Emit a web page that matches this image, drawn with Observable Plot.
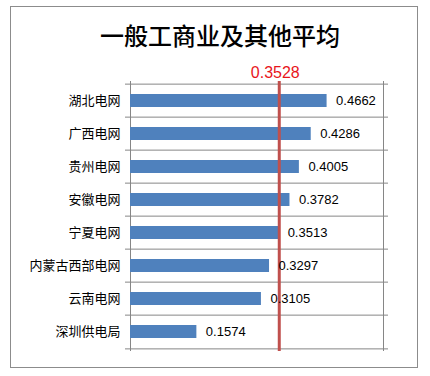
<!DOCTYPE html>
<html>
<head>
<meta charset="utf-8">
<script src="https://cdn.jsdelivr.net/npm/d3@7"></script>
<script src="https://cdn.jsdelivr.net/npm/@observablehq/plot@0.6"></script>
<style>
  html, body { margin: 0; padding: 0; background: #fff; }
  #wrap { position: relative; width: 430px; height: 376px; }
  #border { position: absolute; left: 10px; top: 6px; width: 406px; height: 360px; border: 1px solid #8c8c8c; pointer-events: none; }
  #wrap svg { position: absolute; left: 0; top: 0; }
</style>
</head>
<body>
<div id="wrap"><div id="border"></div></div>
<script>
const title = "一般工商业及其他平均";
const categories = ["湖北电网", "广西电网", "贵州电网", "安徽电网", "宁夏电网", "内蒙古西部电网", "云南电网", "深圳供电局"];
const values = [0.4662, 0.4286, 0.4005, 0.3782, 0.3513, 0.3297, 0.3105, 0.1574];
const average = 0.3528;
const xMax = 0.6;

const data = categories.map((c, i) => ({category: c, value: values[i]}));

const W = 430, H = 376, mt = 81, mb = 25, ml = 130, mr = 47;
const step = (H - mt - mb) / categories.length;
const gray = "#868686";

const chart = Plot.plot({
  width: W,
  height: H,
  marginTop: mt,
  marginBottom: mb,
  marginLeft: ml,
  marginRight: mr,
  style: {background: "transparent", fontFamily: "'Noto Sans CJK SC', sans-serif"},
  x: {domain: [0, xMax], axis: null},
  y: {domain: categories, paddingInner: 0.6, paddingOuter: 0.3, axis: null},
  marks: [
    Plot.ruleY(categories, {y: d => d, dy: -step / 2, stroke: gray, insetLeft: -5, insetRight: -5}),
    Plot.ruleY([categories[categories.length - 1]], {y: d => d, dy: step / 2, stroke: gray, insetLeft: -5, insetRight: -5}),
    Plot.ruleX([0, xMax], {stroke: gray}),
    Plot.barX(data, {x: "value", y: "category", fill: "#4f81bd"}),
    Plot.ruleX([average], {stroke: "#c0504d", strokeWidth: 3}),
    Plot.text(data, {x: "value", y: "category", text: d => d.value.toFixed(4), textAnchor: "start", dx: 9, fontSize: 13, fill: "#000", fontFamily: "'Liberation Sans', Arial, sans-serif"}),
    Plot.text(data, {y: "category", text: "category", frameAnchor: "left", textAnchor: "end", dx: -10, fontSize: 13, fill: "#000"}),
    Plot.text([average], {x: d => d, text: d => d.toFixed(4), frameAnchor: "top", dy: -15, dx: -4, fontSize: 16, fill: "#e8151b", fontFamily: "'Liberation Sans', Arial, sans-serif"}),
    Plot.text([title], {text: d => d, frameAnchor: "top", dx: -37, dy: -54, fontSize: 24, fontWeight: 500, fill: "#000"})
  ]
});

document.getElementById("wrap").appendChild(chart);
</script>
</body>
</html>
